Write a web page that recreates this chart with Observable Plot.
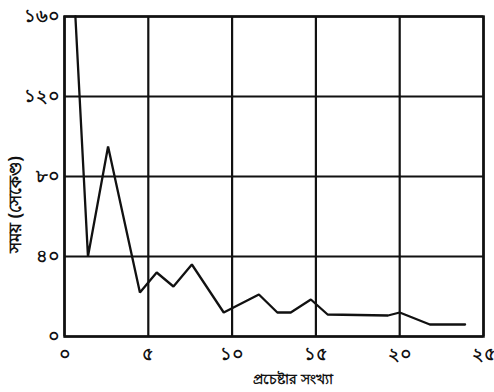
<!DOCTYPE html>
<html>
<head>
<meta charset="utf-8">
<script src="https://cdn.jsdelivr.net/npm/d3@7"></script>
<script src="https://cdn.jsdelivr.net/npm/@observablehq/plot@0.6"></script>
<style>
  html, body { margin: 0; padding: 0; background: #fff; }
  #chart svg { display: block; }
</style>
</head>
<body>
<div id="chart"></div>
<script>
// Data
const trials = [0.65, 1.4, 2.6, 4.5, 5.5, 6.5, 7.6, 9.5, 11.6, 12.7, 13.5, 14.7, 15.7, 19.3, 20.0, 21.8, 23.9];
const times  = [160, 40, 95, 22, 32, 25, 36, 12, 21, 12, 12, 18.5, 11, 10.5, 12, 6, 6];

const xTicks = [0, 5, 10, 15, 20, 25];
const xTickLabels = ["০", "৫", "১০", "১৫", "২০", "২৫"];
const yTicks = [0, 40, 80, 120, 160];
const yTickLabels = ["০", "৪০", "৮০", "১২০", "১৬০"];
const xLabel = "প্রচেষ্টার সংখ্যা";
const yLabel = "সময় (সেকেণ্ড)";

const data = trials.map((t, i) => ({trial: t, time: times[i]}));

const chart = Plot.plot({
  width: 494,
  height: 392,
  marginLeft: 64,
  marginRight: 11,
  marginTop: 16,
  marginBottom: 56,
  style: {fontFamily: "'Noto Sans', 'DejaVu Sans', sans-serif", fontSize: "18px", color: "#111", background: "#fff"},
  x: {domain: [0, 25], label: null},
  y: {domain: [0, 160], label: null},
  marks: [
    Plot.ruleX(xTicks, {stroke: "#111", strokeWidth: 2.2}),
    Plot.ruleY(yTicks, {stroke: "#111", strokeWidth: 2.2}),
    Plot.frame({stroke: "#111", strokeWidth: 2.5}),
    Plot.line(data, {x: "trial", y: "time", stroke: "#111", strokeWidth: 2.3, strokeLinejoin: "miter"}),
    Plot.axisX(xTicks, {tickSize: 0, tickPadding: 11, fontWeight: "bold", fontSize: 18,
      tickFormat: d => xTickLabels[xTicks.indexOf(d)], label: null}),
    Plot.axisY(yTicks, {tickSize: 0, tickPadding: 5, fontWeight: "bold", fontSize: 18,
      tickFormat: d => yTickLabels[yTicks.indexOf(d)], label: null}),
    Plot.text([xLabel], {frameAnchor: "bottom", dx: 19, dy: 47, fontWeight: "bold", fontSize: 14, fill: "#111"}),
    Plot.text([yLabel], {frameAnchor: "left", textAnchor: "middle", dx: -49, dy: 28, rotate: -90, fontWeight: "bold", fontSize: 17, fill: "#111"})
  ]
});
document.getElementById("chart").appendChild(chart);
</script>
</body>
</html>
